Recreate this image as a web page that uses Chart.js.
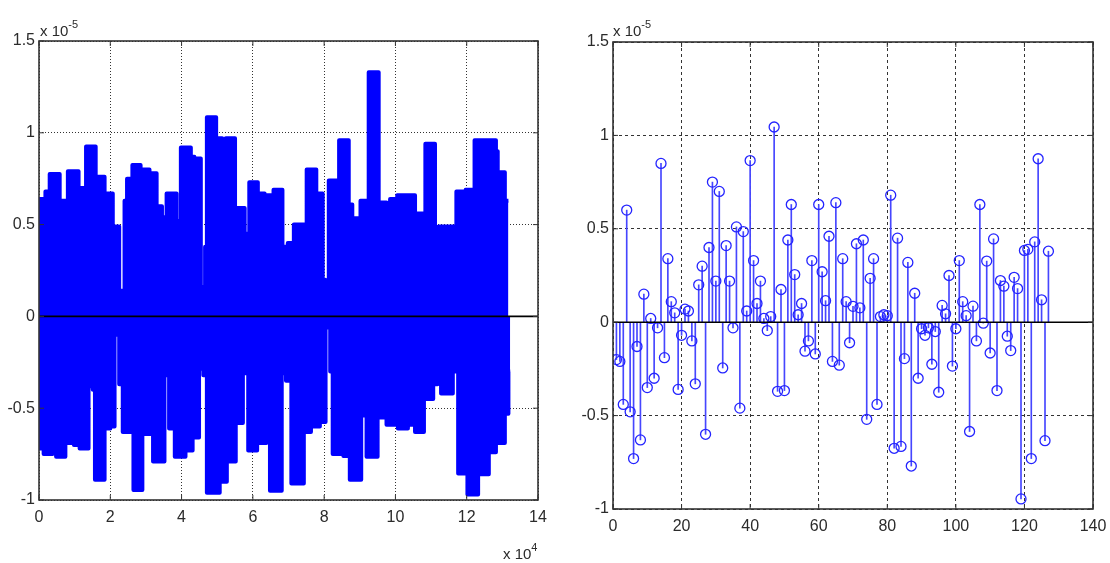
<!DOCTYPE html>
<html>
<head>
<meta charset="utf-8">
<script src="https://cdn.jsdelivr.net/npm/chart.js@4.4.1/dist/chart.umd.min.js"></script>
<style>
  body { margin: 0; background: #fff; width: 1110px; height: 563px; overflow: hidden; position: relative;
         font-family: 'Liberation Sans', Arial, sans-serif; }
  canvas { position: absolute; top: 0; }
  #left { left: 0; }
  #right { left: 560px; }
  .exp { position: absolute; font-size: 15px; color: #2b2b2b; line-height: 16px; white-space: nowrap; }
  .exp sup { font-size: 11px; position: relative; top: -2px; }
</style>
</head>
<body>
<canvas id="left" width="560" height="563"></canvas>
<canvas id="right" width="550" height="563"></canvas>
<div class="exp" style="left:40px;top:18px">x 10<sup>-5</sup></div>
<div class="exp" style="left:613px;top:18px">x 10<sup>-5</sup></div>
<div class="exp" style="left:503px;top:541px">x 10<sup>4</sup></div>

<script>
// left plot: envelope of the long signal (x in units of 10^4 samples)
const topX = [0, 0.18, 0.30, 0.58, 0.81, 1.11, 1.32, 1.59, 1.84, 2.07, 2.25, 2.40, 2.47, 2.62, 2.85,
  3.10, 3.30, 3.45, 3.58, 3.86, 3.98, 4.26, 4.36, 4.54, 4.66, 4.71, 4.97, 5.14, 5.24, 5.50,
  5.77, 5.90, 6.14, 6.33, 6.58, 6.83, 6.98, 7.15, 7.51, 7.78, 7.96, 8.03, 8.13, 8.42, 8.69,
  8.79, 9.02, 9.25, 9.53, 9.75, 9.85, 10.05, 10.55, 10.84, 11.11, 11.21, 11.71, 11.97, 12.22, 12.82,
  12.87, 13.07, 13.17];
const topY = [0.64, 0.68, 0.776, 0.63, 0.79, 0.70, 0.925, 0.76, 0.67, 0.49, 0.14, 0.63, 0.75, 0.825, 0.80,
  0.78, 0.60, 0.54, 0.67, 0.52, 0.92, 0.87, 0.86, 0.16, 0.38, 1.085, 0.97, 0.66, 0.97, 0.59,
  0.45, 0.73, 0.67, 0.66, 0.69, 0.38, 0.40, 0.50, 0.80, 0.67, 0.20, 0.09, 0.74, 0.96, 0.61,
  0.535, 0.63, 1.33, 0.62, 0.585, 0.64, 0.66, 0.56, 0.94, 0.40, 0.49, 0.68, 0.69, 0.96, 0.90,
  0.785, 0.63, 0.63];
const botX = [0, 0.03, 0.13, 0.38, 0.48, 0.74, 0.78, 0.98, 1.14, 1.39, 1.51, 1.57, 1.84, 2.00, 2.12,
  2.25, 2.35, 2.65, 2.90, 3.20, 3.52, 3.65, 3.81, 4.11, 4.31, 4.49, 4.61, 4.71, 5.07, 5.27,
  5.52, 5.72, 5.87, 6.12, 6.38, 6.48, 6.81, 6.93, 7.08, 7.43, 7.63, 7.88, 8.04, 8.17, 8.24,
  8.54, 8.72, 9.04, 9.19, 9.50, 9.75, 10.00, 10.07, 10.35, 10.55, 10.80, 11.06, 11.18, 11.28, 11.61,
  11.76, 12.02, 12.32, 12.62, 12.82, 13.07, 13.17, 13.22];
const botY = [-0.30, -0.72, -0.75, -0.62, -0.765, -0.62, -0.69, -0.70, -0.72, -0.38, -0.40, -0.89, -0.61, -0.60, -0.10,
  -0.37, -0.63, -0.945, -0.64, -0.79, -0.32, -0.61, -0.765, -0.73, -0.66, -0.285, -0.32, -0.96, -0.90, -0.79,
  -0.58, -0.31, -0.73, -0.69, -0.48, -0.95, -0.31, -0.35, -0.91, -0.63, -0.60, -0.575, -0.06, -0.30, -0.75,
  -0.76, -0.89, -0.54, -0.765, -0.55, -0.59, -0.37, -0.61, -0.59, -0.63, -0.45, -0.37, -0.32, -0.42, -0.30,
  -0.855, -0.97, -0.86, -0.74, -0.69, -0.53, -0.30, -0.30];

// right plot: 127 stems (values in units of 10^-5)
const stemVals = [-0.20, -0.21, -0.44, 0.60, -0.48, -0.73, -0.13, -0.63, 0.15, -0.35,
  0.02, -0.30, -0.03, 0.85, -0.19, 0.34, 0.11, 0.05, -0.36, -0.07,
  0.07, 0.06, -0.10, -0.33, 0.20, 0.30, -0.60, 0.40, 0.75, 0.22,
  0.70, -0.245, 0.41, 0.22, -0.03, 0.51, -0.46, 0.485, 0.06, 0.865,
  0.33, 0.10, 0.22, 0.02, -0.045, 0.03, 1.045, -0.37, 0.175, -0.366,
  0.44, 0.63, 0.255, 0.04, 0.10, -0.155, -0.10, 0.33, -0.17, 0.63,
  0.27, 0.115, 0.46, -0.21, 0.64, -0.23, 0.34, 0.11, -0.11, 0.085,
  0.42, 0.077, 0.44, -0.52, 0.235, 0.34, -0.44, 0.03, 0.04, 0.035,
  0.68, -0.675, 0.45, -0.665, -0.195, 0.32, -0.77, 0.155, -0.30, -0.035,
  -0.07, -0.03, -0.225, -0.05, -0.375, 0.09, 0.045, 0.25, -0.235, -0.035,
  0.33, 0.11, 0.035, -0.585, 0.086, -0.10, 0.63, -0.005, 0.327, -0.165,
  0.446, -0.366, 0.223, 0.193, -0.075, -0.152, 0.24, 0.18, -0.946, 0.384,
  0.39, -0.73, 0.43, 0.875, 0.12, -0.634, 0.38];
const stemIdx = stemVals.map((v, i) => i + 1);

const yTicks = [-1, -0.5, 0, 0.5, 1, 1.5];
const leftXTicks = [0, 2, 4, 6, 8, 10, 12, 14];
const rightXTicks = [0, 20, 40, 60, 80, 100, 120, 140];

const tickFont = { family: "'Liberation Sans', Arial, sans-serif", size: 16 };
const tickColor = '#2b2b2b';

// axes box, black baseline and small inner ticks like matlab
const boxPlugin = {
  id: 'box',
  afterDraw(chart) {
    const { ctx, chartArea: a, scales } = chart;
    ctx.save();
    const y0 = scales.y.getPixelForValue(0);
    ctx.strokeStyle = '#000';
    ctx.lineWidth = 1.6;
    ctx.beginPath();
    ctx.moveTo(a.left, y0);
    ctx.lineTo(a.right, y0);
    ctx.stroke();

    ctx.strokeStyle = '#333';
    ctx.lineWidth = 1;
    ctx.beginPath();
    scales.x.ticks.forEach(t => {
      const x = scales.x.getPixelForValue(t.value);
      ctx.moveTo(x, a.bottom); ctx.lineTo(x, a.bottom - 5);
      ctx.moveTo(x, a.top); ctx.lineTo(x, a.top + 5);
    });
    scales.y.ticks.forEach(t => {
      const y = scales.y.getPixelForValue(t.value);
      ctx.moveTo(a.left, y); ctx.lineTo(a.left + 5, y);
      ctx.moveTo(a.right, y); ctx.lineTo(a.right - 5, y);
    });
    ctx.stroke();

    ctx.lineWidth = 1.6;
    ctx.strokeRect(a.left, a.top, a.right - a.left, a.bottom - a.top);
    ctx.restore();
  }
};

function makeScales(xTicks, xMax, yWidth, dash) {
  return {
    x: {
      type: 'linear', min: 0, max: xMax, offset: false,
      afterBuildTicks: s => { s.ticks = xTicks.map(v => ({ value: v })); },
      afterFit: s => { s.height = 30; s.paddingLeft = 0; s.paddingRight = 0; },
      ticks: { font: tickFont, color: tickColor, padding: 8, maxRotation: 0, callback: v => String(v) },
      grid: { offset: false, color: '#333', lineWidth: 1, drawTicks: false, borderDash: dash },
      border: { display: false, dash: dash }
    },
    y: {
      type: 'linear', min: -1, max: 1.5,
      afterBuildTicks: s => { s.ticks = yTicks.map(v => ({ value: v })); },
      afterFit: s => { s.width = yWidth; s.paddingTop = 0; s.paddingBottom = 0; },
      ticks: { font: tickFont, color: tickColor, padding: 4, callback: v => String(v) },
      grid: { color: '#333', lineWidth: 1, drawTicks: false, borderDash: dash },
      border: { display: false, dash: dash }
    }
  };
}

new Chart(document.getElementById('left'), {
  type: 'line',
  data: {
    datasets: [
      {
        data: topX.map((x, i) => ({ x: x, y: topY[i] })),
        stepped: 'before', fill: 'origin',
        backgroundColor: '#0000ff', borderColor: '#0000ff', borderWidth: 4,
        borderJoinStyle: 'round', borderCapStyle: 'butt', pointRadius: 0
      },
      {
        data: botX.map((x, i) => ({ x: x, y: botY[i] })),
        stepped: 'before', fill: 'origin',
        backgroundColor: '#0000ff', borderColor: '#0000ff', borderWidth: 4,
        borderJoinStyle: 'round', borderCapStyle: 'butt', pointRadius: 0
      }
    ]
  },
  options: {
    responsive: false,
    animation: false,
    layout: { padding: { left: 0, right: 22, top: 41, bottom: 33 } },
    plugins: { legend: { display: false }, tooltip: { enabled: false } },
    scales: makeScales(leftXTicks, 14, 39, [1, 2])
  },
  plugins: [boxPlugin]
});

new Chart(document.getElementById('right'), {
  type: 'bar',
  data: {
    datasets: [
      {
        type: 'scatter',
        data: stemIdx.map((x, i) => ({ x: x, y: stemVals[i] })),
        pointStyle: 'circle', pointRadius: 5,
        backgroundColor: 'rgba(0,0,0,0)', borderColor: '#2424ff', borderWidth: 1.3
      },
      {
        type: 'bar',
        data: stemIdx.map((x, i) => ({ x: x, y: stemVals[i] })),
        barThickness: 1, backgroundColor: '#4646ff', borderWidth: 0
      }
    ]
  },
  options: {
    responsive: false,
    animation: false,
    layout: { padding: { left: 0, right: 17, top: 42, bottom: 24 } },
    plugins: { legend: { display: false }, tooltip: { enabled: false } },
    scales: makeScales(rightXTicks, 140, 53, [3, 3])
  },
  plugins: [boxPlugin]
});
</script>
</body>
</html>
